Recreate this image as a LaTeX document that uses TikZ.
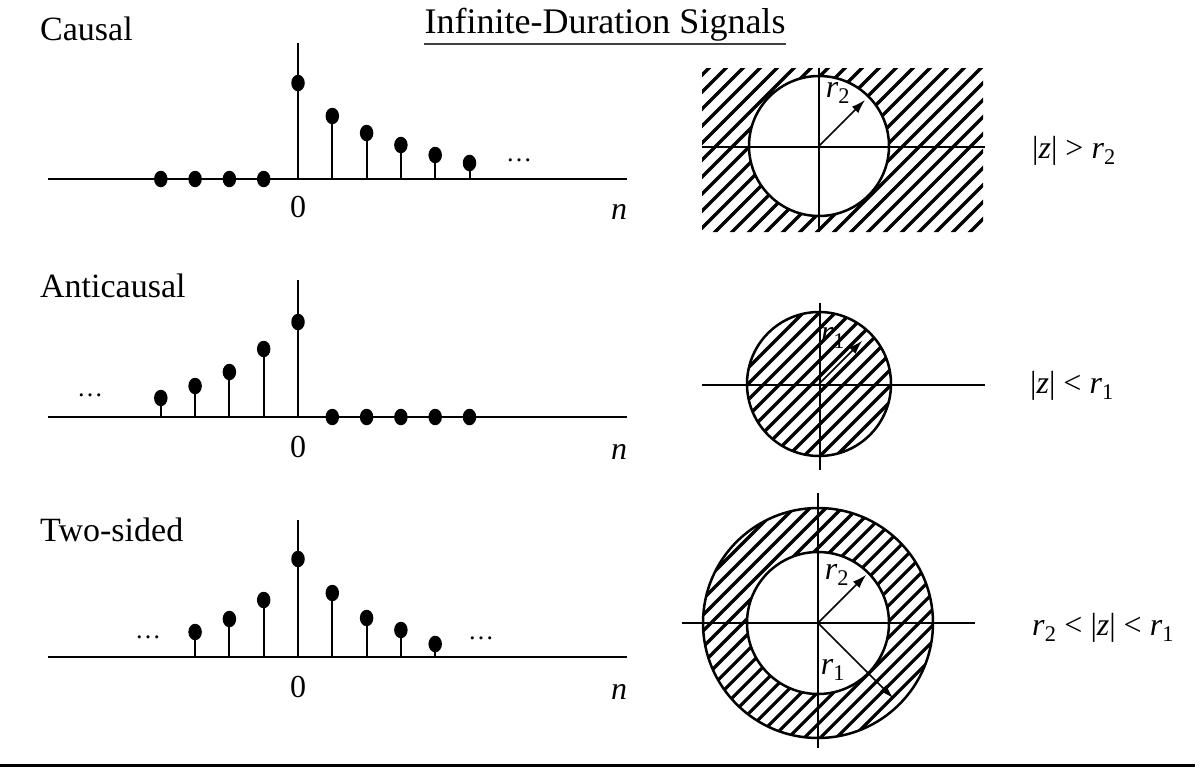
\documentclass[tikz,border=0pt]{standalone}
\usepackage{fontspec}
\setmainfont{Liberation Serif}
\usetikzlibrary{shapes.geometric,arrows.meta}
\begin{document}
\begin{tikzpicture}[x=1pt,y=-1pt,
  ax/.style={line width=2pt},
  stemln/.style={line width=2pt},
  dotn/.style={ellipse,fill=black,inner sep=0pt,minimum width=13.5pt,minimum height=16.5pt},
  circ/.style={circle,draw,line width=2.5pt,inner sep=0pt},
  hatch/.style={line width=3.2pt},
  lbl/.style={font=\fontsize{34}{40}\selectfont,anchor=base west,inner sep=0pt},
  num/.style={font=\fontsize{32}{36}\selectfont,inner sep=0pt},
  rl/.style={font=\fontsize{32}{36}\selectfont,inner sep=0pt},
  dts/.style={font=\fontsize{26}{30}\selectfont,inner sep=0pt},
  arr/.style={line width=1.6pt,-{Latex[length=14pt,width=9pt]}}
]
\useasboundingbox (0,0) rectangle (1203,771);
\fill[white] (0,0) rectangle (1203,771);

% title
\node[font=\fontsize{36}{40}\selectfont,anchor=base,inner sep=0pt] (title) at (605,33) {Infinite-Duration Signals};
\draw[line width=1.1pt,black!75] (title.base west) ++(0,11) coordinate (ul1) -- (title.base east |- ul1);

% ---------- Causal ----------
\node[lbl] (lc) at (40,40) {Causal};
\coordinate (ca0) at (48,179);
\coordinate (ca1) at (627,179);
\draw[ax] (ca0) -- (ca1);
\coordinate (cvt) at (298,43);
\draw[ax] (298,179) -- (cvt);
\foreach \k in {-4,-3,-2,-1} \node[dotn] at ({298+34.3*\k},179) {};
\foreach \k/\yy in {0/83,1/116,2/133,3/145,4/155,5/163}
  \draw[stemln] ({298+34.3*\k},179) -- ({298+34.3*\k},\yy) node[dotn]{};
\node[dts] (cd) at (519,160) {\dots};
\node[num] (c0) at (298,207) {0};
\node[num] (cn) at (619,212) {\textit{n}};

% ---------- Anticausal ----------
\node[lbl] (la) at (40,297) {Anticausal};
\coordinate (aa0) at (48,417);
\coordinate (aa1) at (627,417);
\draw[ax] (aa0) -- (aa1);
\coordinate (avt) at (298,280);
\draw[ax] (298,417) -- (avt);
\foreach \k/\yy in {-4/398,-3/386,-2/372,-1/349,0/322}
  \draw[stemln] ({298+34.3*\k},417) -- ({298+34.3*\k},\yy) node[dotn]{};
\foreach \k in {1,2,3,4,5} \node[dotn] at ({298+34.3*\k},417) {};
\node[dts] (ad) at (90,395) {\dots};
\node[num] (a0) at (298,447) {0};
\node[num] (an) at (619,452) {\textit{n}};

% ---------- Two-sided ----------
\node[lbl] (lt) at (40,541) {Two-sided};
\coordinate (ta0) at (48,657);
\coordinate (ta1) at (627,657);
\draw[ax] (ta0) -- (ta1);
\coordinate (tvt) at (298,520);
\draw[ax] (298,657) -- (tvt);
\foreach \k/\yy in {-3/632,-2/619,-1/600,0/559,1/593,2/618,3/630,4/644}
  \draw[stemln] ({298+34.3*\k},657) -- ({298+34.3*\k},\yy) node[dotn]{};
\node[dts] (tdl) at (148,637) {\dots};
\node[dts] (tdr) at (481,638) {\dots};
\node[num] (t0) at (298,687) {0};
\node[num] (tn) at (619,692) {\textit{n}};

% ---------- z-plane: causal ----------
\begin{scope}[even odd rule]
  \clip (702,68) rectangle (983,232) (819,146) circle[radius=70];
  \foreach \c in {760,777,...,1240}
    \draw[hatch] ({\c-50},50) -- ({\c-250},250);
\end{scope}
\node[circ,minimum size=140pt] (zc) at (819,146) {};
\coordinate (zch0) at (702,147); \coordinate (zch1) at (985,147);
\coordinate (zcv0) at (819,68); \coordinate (zcv1) at (819,232);
\draw[ax] (zch0) -- (zch1);
\draw[ax] (zcv0) -- (zcv1);
\draw[arr,shorten >=6pt] (zc.center) -- (zc.45);
\node[rl] (zcr) at (838,93) {\textit{r}\textsubscript{2}};
\node[rl,anchor=base west] (zcl) at (1032,158) {|\textit{z}| > \textit{r}\textsubscript{2}};

% ---------- z-plane: anticausal ----------
\begin{scope}
  \clip (819,384) circle[radius=72];
  \foreach \c in {1100,1116,...,1320}
    \draw[hatch] ({\c-290},290) -- ({\c-480},480);
\end{scope}
\node[circ,minimum size=144pt] (za) at (819,384) {};
\coordinate (zah0) at (702,385); \coordinate (zah1) at (985,385);
\coordinate (zav0) at (820,303); \coordinate (zav1) at (820,470);
\draw[ax] (zah0) -- (zah1);
\draw[ax] (zav0) -- (zav1);
\draw[arr,shorten >=12pt] (za.center) -- (za.45);
\node[rl] (zar) at (833,338) {\textit{r}\textsubscript{1}};
\node[rl,anchor=base west] (zal) at (1030,393) {|\textit{z}| < \textit{r}\textsubscript{1}};

% ---------- z-plane: two-sided ----------
\begin{scope}[even odd rule]
  \clip (818,623) circle[radius=115] (818,623) circle[radius=71];
  \foreach \c in {1270,1286,...,1620}
    \draw[hatch] ({\c-490},490) -- ({\c-760},760);
\end{scope}
\node[circ,minimum size=230pt] (zto) at (818,623) {};
\node[circ,minimum size=142pt] (zti) at (818,623) {};
\coordinate (zth0) at (682,623); \coordinate (zth1) at (975,623);
\coordinate (ztv0) at (818,493); \coordinate (ztv1) at (818,748);
\draw[ax] (zth0) -- (zth1);
\draw[ax] (ztv0) -- (ztv1);
\draw[arr,shorten >=4pt] (zto.center) -- (zti.45);
\draw[arr,shorten >=10pt] (zto.center) -- (zto.-45);
\node[rl] (ztr2) at (837,575) {\textit{r}\textsubscript{2}};
\node[rl] (ztr1) at (833,670) {\textit{r}\textsubscript{1}};
\node[rl,anchor=base west] (ztl) at (1032,635) {\textit{r}\textsubscript{2} < |\textit{z}| < \textit{r}\textsubscript{1}};

% bottom rule
\coordinate (b0) at (0,765); \coordinate (b1) at (1195,765);
\draw[line width=3pt] (b0) -- (b1);
\end{tikzpicture}
\end{document}
